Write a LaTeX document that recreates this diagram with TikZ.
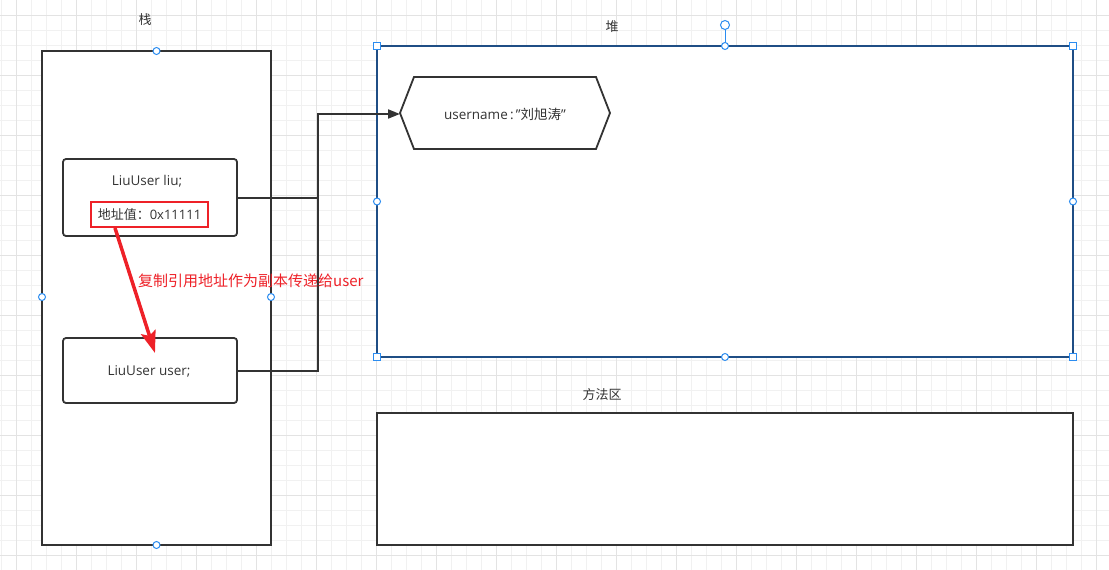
\documentclass[tikz,border=0pt]{standalone}
\usepackage{fontspec}
\setmainfont{Open Sans}
\newfontfamily\cjkf{Noto Sans CJK SC}
\newcommand{\zh}[1]{{\cjkf #1}}
\usetikzlibrary{arrows.meta}
\definecolor{txt}{HTML}{333333}
\definecolor{redc}{HTML}{EE2128}
\definecolor{selblue}{HTML}{1F4E85}
\definecolor{handle}{HTML}{2B8CF0}
\definecolor{gminor}{HTML}{F1F1F1}
\definecolor{gmajor}{HTML}{E3E3E3}
\tikzset{
  area/.style={draw=txt,line width=2pt,fill=white},
  varbox/.style={draw=txt,line width=1.8pt,rounded corners=3pt,fill=white},
  lbl/.style={text=txt,font=\fontsize{13.5}{15}\selectfont,inner sep=0pt},
  zlbl/.style={text=txt,font=\fontsize{13}{15}\selectfont,inner sep=0pt},
  conn/.style={draw=txt,line width=1.8pt},
  hcirc/.style={draw=handle,fill=white,line width=1pt},
  hsq/.style={draw=handle,fill=white,line width=1pt}
}
\begin{document}
\begin{tikzpicture}[x=1pt,y=-1pt]
\useasboundingbox (0,0) rectangle (1109,570);
\fill[white] (0,0) rectangle (1109,570);
% grid
\foreach \k in {0,...,73} {\draw[gminor,line width=0.8pt] ({1.7+15*\k},0) -- ({1.7+15*\k},570);}
\foreach \k in {1,...,38} {\draw[gminor,line width=0.8pt] (0,{15*\k}) -- (1109,{15*\k});}
\foreach \k in {0,...,18} {\draw[gmajor,line width=0.8pt] ({16.7+60*\k},0) -- ({16.7+60*\k},570);}
\foreach \k in {0,...,9} {\draw[gmajor,line width=0.8pt] (0,{15+60*\k}) -- (1109,{15+60*\k});}

% stack area
\draw[area] (42,51) rectangle (271,545);
\node[zlbl] (stacklbl) at (145,20) {\zh{栈}};
% heap area
\draw[area,draw=selblue] (377,46) rectangle (1073,357);
\node[zlbl] (heaplbl) at (612,27) {\zh{堆}};
% method area
\draw[area] (377,413) rectangle (1073,545);
\node[zlbl] (methlbl) at (602,395) {\zh{方法区}};

% variable boxes
\draw[varbox] (63,159) rectangle (237,236);
\node[lbl] (liutxt) at (147,181) {LiuUser liu;};
\node[draw=redc,line width=1.5pt,fill=white,minimum width=117pt,minimum height=25pt,text=txt,font=\fontsize{13}{15}\selectfont,inner sep=0pt] (addr) at (149.5,214.5) {\zh{地址值：}0x11111};
\coordinate (liuE) at (237,198);

\draw[varbox] (63,338) rectangle (237,403);
\node[lbl] (usertxt) at (149,371) {LiuUser user;};
\coordinate (userE) at (237,371);

% hexagon
\draw[draw=txt,line width=1.8pt,fill=white,line join=miter]
  (400,113) -- (414,77) -- (596,77) -- (610,113) -- (596,149) -- (414,149) -- cycle;
\node[lbl] (hex) at (505,114) {username\,:\,\symbol{34}\zh{刘旭涛}\symbol{34}};
\coordinate (hexW) at (400,114);
\coordinate (jx) at (318,114);

% connectors
\draw[conn] (userE) -- (userE -| jx) -- (jx);
\draw[conn,-{Triangle[length=12pt,width=9pt]}] (liuE) -- (liuE -| jx) -- (jx) -- (hexW);

% red arrow
\coordinate (rs) at (115,228);
\coordinate (re) at (155,353);
\draw[redc,line width=3.5pt,-{Stealth[length=22pt,width=15pt,inset=4pt]}] (rs) -- (re);
\node[text=redc,font=\fontsize{15}{17}\selectfont,anchor=west,inner sep=0pt] (copylbl) at (138,281) {\zh{复制引用地址作为副本传递给user}};

% selection handles (stack)
\foreach \p in {(156.5,51),(156.5,545),(42,297),(271,297)} {\draw[hcirc] \p circle (3.5pt);}
% selection handles (heap)
\draw[handle,line width=1pt] (725,46) -- (725,29);
\draw[hcirc] (725,25) circle (4.5pt);
\foreach \p in {(725,46),(725,357),(377,201.5),(1073,201.5)} {\draw[hcirc] \p circle (3.5pt);}
\foreach \p in {(377,46),(1073,46),(377,357),(1073,357)} {\draw[hsq] \p ++(-3.5,-3.5) rectangle ++(7,7);}
\end{tikzpicture}
\end{document}
